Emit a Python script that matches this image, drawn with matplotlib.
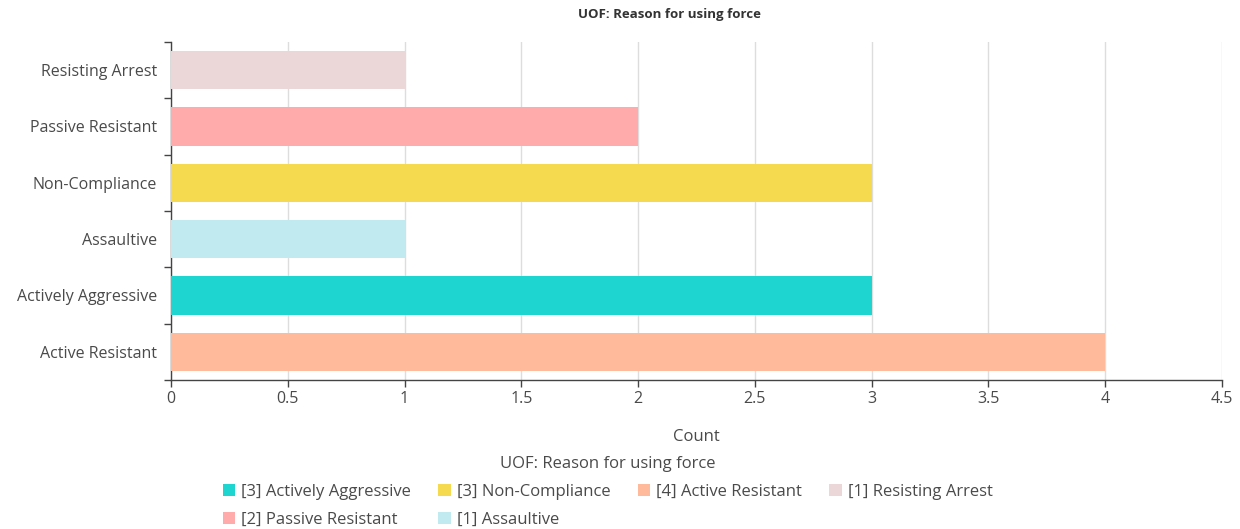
import matplotlib
matplotlib.use("Agg")
import matplotlib.pyplot as plt
from matplotlib.patches import Patch

plt.rcParams['font.family'] = ['Open Sans', 'DejaVu Sans']

# Bar categories, bottom to top
categories = ["Active Resistant", "Actively Aggressive", "Assaultive",
              "Non-Compliance", "Passive Resistant", "Resisting Arrest"]
counts = [4, 3, 1, 3, 2, 1]
colors = ["#FFB99B", "#1ED6CF", "#C0EAF0", "#F5DA50", "#FFABAB", "#EBD6D8"]

# Legend ordering (matplotlib fills legend columns top-to-bottom)
legend_order = ["Actively Aggressive", "Passive Resistant", "Non-Compliance",
                "Assaultive", "Active Resistant", "Resisting Arrest"]

x_ticks = [0, 0.5, 1, 1.5, 2, 2.5, 3, 3.5, 4, 4.5]
x_tick_labels = ["0", "0.5", "1", "1.5", "2", "2.5", "3", "3.5", "4", "4.5"]

title = "UOF: Reason for using force"
x_label = "Count"

text_color = "#4a4a4a"

fig = plt.figure(figsize=(12.4, 5.29), dpi=100)
ax = fig.add_axes([0.1379, 0.2817, 0.8476, 0.6389])

ypos = list(range(len(categories)))
ax.barh(ypos, counts, height=0.68, color=colors, zorder=3)

ax.set_xlim(0, 4.5)
ax.set_ylim(-0.5, len(categories) - 0.5)
ax.set_xticks(x_ticks)
ax.set_xticklabels(x_tick_labels, fontsize=11.5, color=text_color)
ax.set_yticks(ypos)
ax.set_yticklabels(categories, fontsize=11.5, color=text_color)
ax.set_yticks([y - 0.5 for y in range(len(categories) + 1)], minor=True)
ax.tick_params(axis='y', which='major', length=0, pad=10)
ax.tick_params(axis='y', which='minor', length=5, width=1, color="#444444")
ax.tick_params(axis='x', which='major', length=5, width=1, color="#444444", pad=3)

ax.grid(axis='x', color="#dddddd", linewidth=1, zorder=0)
for s in ("top", "right"):
    ax.spines[s].set_visible(False)
for s in ("left", "bottom"):
    ax.spines[s].set_color("#444444")
    ax.spines[s].set_linewidth(1)

ax.set_xlabel(x_label, fontsize=12, color=text_color, labelpad=16)
fig.text(0.54, 0.972, title, ha='center', va='center', fontsize=9.5,
         fontweight='bold', color="#333333")

val = dict(zip(categories, counts))
col = dict(zip(categories, colors))
handles = [Patch(facecolor=col[c], edgecolor='none') for c in legend_order]
labels = [f"[{val[c]}] {c}" for c in legend_order]
leg = fig.legend(handles, labels, loc='upper center', bbox_to_anchor=(0.49, 0.153),
                 ncol=4, frameon=False, fontsize=12, handlelength=0.75,
                 handleheight=0.75, handletextpad=0.35, columnspacing=1.65,
                 labelspacing=0.7, borderpad=0)
for t in leg.get_texts():
    t.set_color(text_color)
leg.set_title(title, prop={'size': 12})
leg.get_title().set_color(text_color)
leg._legend_box.align = "center"

fig.savefig("out.png", dpi=100, facecolor="white")
